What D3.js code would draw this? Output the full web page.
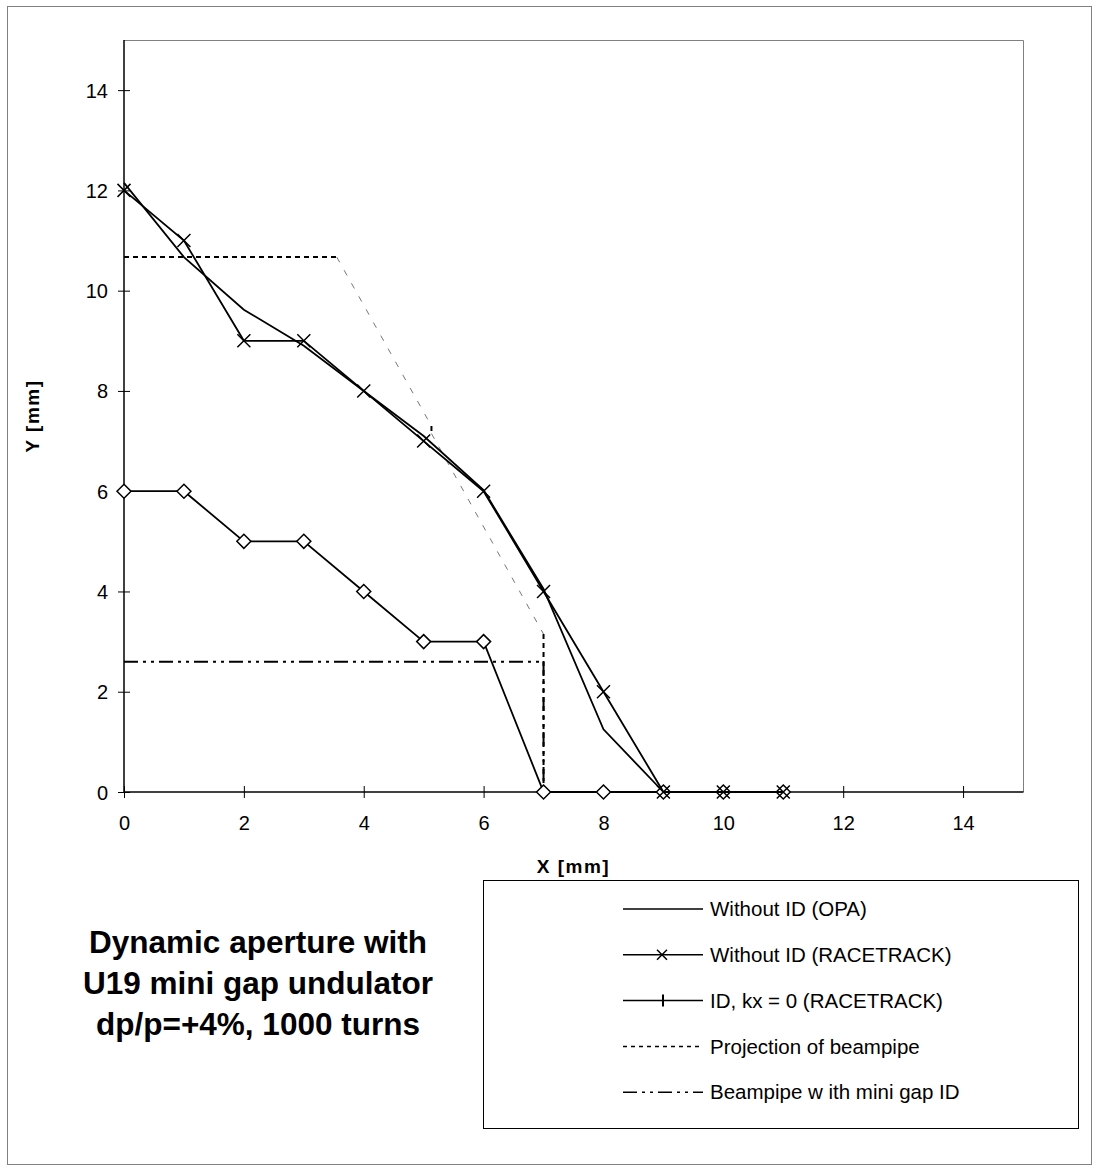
<!DOCTYPE html>
<html>
<head>
<meta charset="utf-8">
<script src="https://cdn.jsdelivr.net/npm/d3@7"></script>
<style>
  body { margin: 0; background: #fff; }
  svg { display: block; font-family: Arial, "Liberation Sans", sans-serif; }
</style>
</head>
<body>
<svg id="chart" width="1098" height="1171"></svg>
<script>
// data
const xTicks = [0, 2, 4, 6, 8, 10, 12, 14];
const yTicks = [0, 2, 4, 6, 8, 10, 12, 14];

const opaX = [0, 1, 2, 3, 4, 5, 6, 7, 8, 9];
const opaY = [12.15, 10.67, 9.62, 8.9, 8.0, 7.1, 6.02, 4.05, 1.25, 0];

const raceX = [0, 1, 2, 3, 4, 5, 6, 7, 8, 9, 10, 11];
const raceY = [12, 11, 9, 9, 8, 7, 6, 4, 2, 0, 0, 0];

const idX = [0, 1, 2, 3, 4, 5, 6, 7, 8, 9, 10, 11];
const idY = [6, 6, 5, 5, 4, 3, 3, 0, 0, 0, 0, 0];

// projection of beampipe
const projX = [0, 3.55, 5.13, 5.13, 7.0, 7.0];
const projY = [10.67, 10.67, 7.3, 7.15, 3.15, 0];

// beampipe with mini gap ID
const pipeX = [0, 7, 7];
const pipeY = [2.6, 2.6, 0];

const legendLabels = [
  "Without ID (OPA)",
  "Without ID (RACETRACK)",
  "ID, kx = 0 (RACETRACK)",
  "Projection of beampipe",
  "Beampipe w ith mini gap ID"
];
const titleLines = ["Dynamic aperture with", "U19 mini gap undulator", "dp/p=+4%, 1000 turns"];

const svg = d3.select("#chart");

// outer frame
svg.append("rect")
  .attr("x", 7.5).attr("y", 6.5)
  .attr("width", 1084).attr("height", 1158)
  .attr("fill", "none").attr("stroke", "#808080").attr("stroke-width", 1);

const plot = { left: 124, top: 40, right: 1023, bottom: 792 };

const x = d3.scaleLinear().domain([0, 15]).range([plot.left, plot.right]);
const y = d3.scaleLinear().domain([0, 15]).range([plot.bottom, plot.top]);

// plot box: gray top and right
svg.append("path")
  .attr("d", `M${plot.left},${plot.top + 0.5}H${plot.right + 0.5}V${plot.bottom}`)
  .attr("fill", "none").attr("stroke", "#808080").attr("stroke-width", 1);

// axes
const xAxis = d3.axisBottom(x).tickValues(xTicks).tickSize(0).tickPadding(0);
const yAxis = d3.axisLeft(y).tickValues(yTicks).tickSize(0).tickPadding(0);

const gx = svg.append("g").attr("transform", `translate(0,${plot.bottom})`).call(xAxis);
gx.select(".domain").remove();
gx.selectAll(".tick text").remove();
gx.selectAll(".tick").append("line")
  .attr("y1", -6).attr("y2", 6).attr("stroke", "#000").attr("stroke-width", 1);
gx.selectAll(".tick").append("text")
  .attr("y", 38).attr("text-anchor", "middle")
  .attr("font-size", 20).attr("fill", "#000")
  .text(d => d);

const gy = svg.append("g").attr("transform", `translate(${plot.left},0)`).call(yAxis);
gy.select(".domain").remove();
gy.selectAll(".tick text").remove();
gy.selectAll(".tick").append("line")
  .attr("x1", -6).attr("x2", 6).attr("stroke", "#000").attr("stroke-width", 1);
gy.selectAll(".tick").append("text")
  .attr("x", -16).attr("dy", "0.35em").attr("text-anchor", "end")
  .attr("font-size", 20).attr("fill", "#000")
  .text(d => d);

// axis lines
svg.append("line")
  .attr("x1", plot.left).attr("x2", plot.right + 0.5)
  .attr("y1", plot.bottom).attr("y2", plot.bottom)
  .attr("stroke", "#000").attr("stroke-width", 1.5);
svg.append("line")
  .attr("x1", plot.left).attr("x2", plot.left)
  .attr("y1", plot.top).attr("y2", plot.bottom)
  .attr("stroke", "#000").attr("stroke-width", 1.5);

// axis titles
svg.append("text")
  .attr("x", (plot.left + plot.right) / 2).attr("y", 873)
  .attr("text-anchor", "middle").attr("font-size", 19).attr("font-weight", "bold")
  .attr("letter-spacing", 1.5)
  .text("X [mm]");
svg.append("text")
  .attr("transform", `translate(38,${(plot.top + plot.bottom) / 2})`).attr("dy", 0)
  .attr("transform", `translate(39,${(plot.top + plot.bottom) / 2}) rotate(-90)`)
  .attr("text-anchor", "middle").attr("font-size", 19).attr("font-weight", "bold")
  .attr("letter-spacing", 1.5)
  .text("Y [mm]");

const line = d3.line().x(d => x(d[0])).y(d => y(d[1]));
const zip = (xs, ys) => xs.map((v, i) => [v, ys[i]]);

// beampipe with mini gap ID (dash-dot-dot)
svg.append("path")
  .attr("d", line(zip(pipeX, pipeY)))
  .attr("fill", "none").attr("stroke", "#000").attr("stroke-width", 2)
  .attr("stroke-dasharray", "14,5,3,5,3,5");

// projection of beampipe: straight runs dotted black, slanted runs thin gray
const isStraight = d => d[0][0] === d[1][0] || d[0][1] === d[1][1];
const projSegs = d3.pairs(zip(projX, projY));
svg.append("g").selectAll("path")
  .data(projSegs)
  .join("path")
  .attr("d", d => line(d))
  .attr("fill", "none")
  .attr("stroke", d => isStraight(d) ? "#000" : "#777")
  .attr("stroke-width", d => isStraight(d) ? 2 : 1)
  .attr("stroke-dasharray", d => isStraight(d) ? "5,4" : "6,9");

// OPA line
svg.append("path")
  .attr("d", line(zip(opaX, opaY)))
  .attr("fill", "none").attr("stroke", "#000").attr("stroke-width", 1.8);

// ID series with diamonds
const idPts = zip(idX, idY);
svg.append("path")
  .attr("d", line(idPts))
  .attr("fill", "none").attr("stroke", "#000").attr("stroke-width", 1.8);
svg.append("g").selectAll("path")
  .data(idPts)
  .join("path")
  .attr("transform", d => `translate(${x(d[0])},${y(d[1])})`)
  .attr("d", "M0,-7L7,0L0,7L-7,0Z")
  .attr("fill", "#fff").attr("stroke", "#000").attr("stroke-width", 1.5);

// RACETRACK series with crosses
const racePts = zip(raceX, raceY);
svg.append("path")
  .attr("d", line(racePts))
  .attr("fill", "none").attr("stroke", "#000").attr("stroke-width", 1.8);
svg.append("g").selectAll("path")
  .data(racePts)
  .join("path")
  .attr("transform", d => `translate(${x(d[0])},${y(d[1])})`)
  .attr("d", "M-6.5,-6.5L6.5,6.5M-6.5,6.5L6.5,-6.5")
  .attr("fill", "none").attr("stroke", "#000").attr("stroke-width", 1.5);

// title
svg.append("g").selectAll("text")
  .data(titleLines)
  .join("text")
  .attr("x", 258).attr("y", (d, i) => 953 + i * 41)
  .attr("text-anchor", "middle").attr("font-size", 31.5).attr("font-weight", "bold")
  .text(d => d);

// legend
const lg = { x: 483, y: 880, w: 595, h: 248 };
svg.append("rect")
  .attr("x", lg.x + 0.5).attr("y", lg.y + 0.5)
  .attr("width", lg.w).attr("height", lg.h)
  .attr("fill", "#fff").attr("stroke", "#000").attr("stroke-width", 1);

const styles = [
  { dash: null, marker: null },
  { dash: null, marker: "x" },
  { dash: null, marker: "bar" },
  { dash: "4,4", marker: null },
  { dash: "14,5,3,5,3,5", marker: null }
];
const items = svg.append("g").selectAll("g")
  .data(legendLabels)
  .join("g")
  .attr("transform", (d, i) => `translate(0,${909 + i * 45.8})`);
items.append("line")
  .attr("x1", 623).attr("x2", 703)
  .attr("stroke", "#000")
  .attr("stroke-width", 1.5)
  .attr("stroke-dasharray", (d, i) => styles[i].dash);
items.filter((d, i) => styles[i].marker === "x").append("path")
  .attr("d", "M657,-5L667,5M657,5L667,-5")
  .attr("stroke", "#000").attr("stroke-width", 1.5);
items.filter((d, i) => styles[i].marker === "bar").append("path")
  .attr("d", "M663,-6V6")
  .attr("stroke", "#000").attr("stroke-width", 2);
items.append("text")
  .attr("x", 710).attr("dy", "0.35em")
  .attr("font-size", 20.5)
  .text(d => d);
</script>
</body>
</html>
